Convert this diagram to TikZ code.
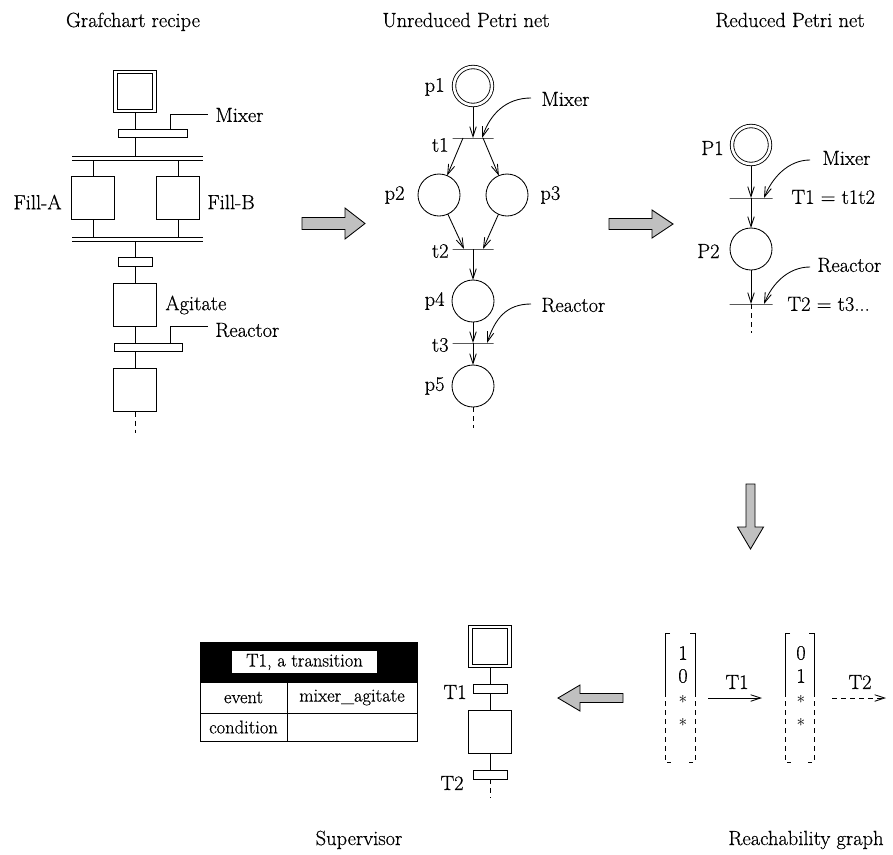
\documentclass[tikz,border=0pt]{standalone}
\usepackage{fontspec}
\setmainfont{Latin Modern Roman}[FakeBold=0.5]
\usetikzlibrary{arrows.meta,calc}
\definecolor{blockgray}{RGB}{192,192,192}
\tikzset{
  lab/.style={font=\fontsize{20.5}{24}\selectfont, inner sep=0pt},
  starlab/.style={font=\fontsize{16}{18}\selectfont, inner sep=0pt},
  tabtxt/.style={font=\fontsize{18.5}{21}\selectfont, inner sep=0pt},
  place/.style={circle, draw, minimum size=42pt, inner sep=0pt, outer sep=0pt},
  iplace/.style={circle, draw, double, double distance=2.6pt, minimum size=38pt, inner sep=0pt, outer sep=2.2pt},
  tbar/.style={draw, minimum width=41pt, minimum height=0pt, inner sep=0pt, outer sep=0pt},
  gstep/.style={draw, minimum width=43pt, minimum height=43pt, inner sep=0pt, outer sep=0pt},
  ginit/.style={draw, double, double distance=2.6pt, minimum width=39pt, minimum height=39pt, inner sep=0pt, outer sep=2.2pt},
  gbar/.style={draw, minimum height=8.5pt, inner sep=0pt, outer sep=0pt},
  arr/.style={-{Straight Barb[length=10pt,width=6.5pt]}},
  dsh/.style={dash pattern=on 5pt off 4pt},
  blockarrow/.style={draw, fill=blockgray, line join=miter},
  cell/.style={draw, tabtxt, minimum height=30pt},
}
\begin{document}
\begin{tikzpicture}[x=1pt, y=-1pt, line width=0.85pt]
\useasboundingbox (0,0) rectangle (893,854);

% ---------- titles ----------
\node[lab, anchor=base] (ttl1) at (133,27) {Grafchart recipe};
\node[lab, anchor=base] (ttl2) at (466,27) {Unreduced Petri net};
\node[lab, anchor=base] (ttl3) at (790,27) {Reduced Petri net};
\node[lab, anchor=base] (ttl4) at (359,845) {Supervisor};
\node[lab, anchor=base] (ttl5) at (806,845) {Reachability graph};

% ---------- Grafchart recipe ----------
\node[ginit] (g0) at (135,91.5) {};
\node[gbar, minimum width=69pt] (gb1) at (152.5,133.5) {};
\draw (g0.south) -- (g0.south |- gb1.north);
\coordinate (gmx) at (208,114);
\draw ($(gb1.north west)+(52,0)$) |- (gmx);
\node[lab, anchor=west] (lgmx) at (215,115) {Mixer};
\coordinate (par1L) at (72,156); \coordinate (par1R) at (203,156);
\coordinate (par2L) at (72,160); \coordinate (par2R) at (203,160);
\draw (par1L) -- (par1R);
\draw (par2L) -- (par2R);
\draw (gb1.south -| g0) -- (g0 |- par1L);
\node[gstep] (fa) at (93,198) {};
\node[gstep] (fb) at (178,198) {};
\draw (fa.north |- par2L) -- (fa.north);
\draw (fb.north |- par2L) -- (fb.north);
\node[lab, anchor=east] (lfa) at (62,202) {Fill-A};
\node[lab, anchor=west] (lfb) at (207,202) {Fill-B};
\coordinate (par3L) at (72,237); \coordinate (par3R) at (203,237);
\coordinate (par4L) at (72,241); \coordinate (par4R) at (203,241);
\draw (par3L) -- (par3R);
\draw (par4L) -- (par4R);
\draw (fa.south) -- (fa.south |- par3L);
\draw (fb.south) -- (fb.south |- par3L);
\node[gbar, minimum width=34pt] (gb2) at (135,262) {};
\draw (g0 |- par4L) -- (gb2.north);
\node[gstep] (ga) at (135,304.5) {};
\draw (gb2.south) -- (ga.north);
\node[lab, anchor=west] (lga) at (165,305) {Agitate};
\node[gbar, minimum width=68pt] (gb3) at (148,347.5) {};
\draw (ga.south) -- (ga.south |- gb3.north);
\coordinate (grc) at (208,326);
\draw ($(gb3.north west)+(56,0)$) |- (grc);
\node[lab, anchor=west] (lgrc) at (215,330) {Reactor};
\node[gstep] (gc) at (135,390) {};
\draw (gb3.south -| ga) -- (gc.north);
\coordinate (gend) at (135,433);
\draw[dsh] (gc.south) -- (gend);

% ---------- block arrows ----------
\draw[blockarrow] (302,217.5) -- (345,217.5) -- (345,208) -- (365,223.5) -- (345,239) -- (345,229.5) -- (302,229.5) -- cycle;
\draw[blockarrow] (609,218.5) -- (652,218.5) -- (652,210) -- (673,224) -- (652,238) -- (652,229.5) -- (609,229.5) -- cycle;
\draw[blockarrow] (746,484) -- (755,484) -- (755,527) -- (763.5,527) -- (750.5,549) -- (737.5,527) -- (746,527) -- cycle;
\draw[blockarrow] (623,693.5) -- (580,693.5) -- (580,685) -- (558,698) -- (580,711) -- (580,702.5) -- (623,702.5) -- cycle;

% ---------- Unreduced Petri net ----------
\node[iplace] (p1) at (473,86) {};
\node[tbar] (t1) at (473,138) {};
\node[place] (p2) at (439,195) {};
\node[place] (p3) at (507,195) {};
\node[tbar] (t2) at (473,249) {};
\node[place] (p4) at (473,301) {};
\node[tbar] (t3) at (473,343) {};
\node[place] (p5) at (473,386) {};
\coordinate (pend) at (473,428);
\draw[arr] (p1) -- (t1);
\draw[arr] ($(t1.center)+(-10,0)$) -- (p2);
\draw[arr] ($(t1.center)+(10,0)$) -- (p3);
\draw[arr] (p2) -- ($(t2.center)+(-9,0)$);
\draw[arr] (p3) -- ($(t2.center)+(10,0)$);
\draw[arr] (t2) -- (p4);
\draw[arr] (p4) -- (t3);
\draw[arr] (t3) -- (p5);
\draw[dsh] (p5) -- (pend);
\node[lab, anchor=east] (lp1) at (445,87) {p1};
\node[lab, anchor=east] (lt1) at (449,145) {t1};
\node[lab, anchor=east] (lp2) at (405,195) {p2};
\node[lab, anchor=west] (lp3) at (540,195) {p3};
\node[lab, anchor=east] (lt2) at (449,251) {t2};
\node[lab, anchor=east] (lp4) at (445,301) {p4};
\node[lab, anchor=east] (lt3) at (449,345) {t3};
\node[lab, anchor=east] (lp5) at (445,386) {p5};
\node[lab, anchor=west] (lpmx) at (541,99) {Mixer};
\node[lab, anchor=west] (lprc) at (541,305) {Reactor};
\draw[arr] ($(lpmx.west)+(-10,-1)$) .. controls +(-25,0) and +(8,-24) .. ($(t1.center)+(9,0)$);
\draw[arr] ($(lprc.west)+(-10,-1)$) .. controls +(-25,0) and +(8,-24) .. ($(t3.center)+(14,0)$);

% ---------- Reduced Petri net ----------
\node[iplace] (P1) at (751,145) {};
\node[tbar, minimum width=43pt] (T1) at (751,198) {};
\node[place] (P2) at (751,249) {};
\node[tbar, minimum width=43pt] (T2) at (751,304) {};
\coordinate (Pend) at (751,333);
\draw[arr] (P1) -- (T1);
\draw[arr] (T1) -- (P2);
\draw[arr] (P2) -- (T2);
\draw[dsh] (T2) -- (Pend);
\node[lab, anchor=east] (lP1) at (724,148) {P1};
\node[lab, anchor=east] (lP2) at (720,251) {P2};
\node[lab, anchor=west] (lRmx) at (822,158) {Mixer};
\node[lab, anchor=west] (lRrc) at (817,265) {Reactor};
\node[lab, anchor=west] (lT1) at (791,197) {T1 = t1t2};
\node[lab, anchor=west] (lT2) at (787,304) {T2 = t3...};
\draw[arr] (810,160) .. controls +(-22,0) and +(8,-20) .. ($(T1.center)+(13,0)$);
\draw[arr] (810,267) .. controls +(-22,0) and +(8,-20) .. ($(T2.center)+(13,0)$);

% ---------- Reachability graph ----------
\node[lab] (m1a) at (683,653) {1};
\node[lab] (m1b) at (683,676) {0};
\node[starlab] (m1c) at (683,699) {$*$};
\node[starlab] (m1d) at (683,722) {$*$};
\node[lab] (m2a) at (801,653) {0};
\node[lab] (m2b) at (801,676) {1};
\node[starlab] (m2c) at (801,699) {$*$};
\node[starlab] (m2d) at (801,722) {$*$};
% brackets
\draw (670,633) -- (665,633) -- (665,692);
\draw (690,633) -- (695,633) -- (695,692);
\draw[dsh] (665,692) -- (665,762) -- (671,762);
\draw[dsh] (695,692) -- (695,762) -- (689,762);
\draw (790,633) -- (785,633) -- (785,692);
\draw (809,633) -- (814,633) -- (814,692);
\draw[dsh] (785,692) -- (785,762) -- (791,762);
\draw[dsh] (814,692) -- (814,762) -- (808,762);
\coordinate (ra1) at (708,698);
\coordinate (ra2) at (762,698);
\coordinate (rb1) at (832,698);
\coordinate (rb2) at (886,698);
\draw[arr] (ra1) -- (ra2);
\draw[arr, dsh] (rb1) -- (rb2);
\node[lab] (lrT1) at (737,682) {T1};
\node[lab] (lrT2) at (860,682) {T2};

% ---------- Supervisor ----------
\node[ginit] (s0) at (490,646.5) {};
\node[gbar, minimum width=34pt] (sb1) at (490,689) {};
\node[gstep] (s1) at (490,731.5) {};
\node[gbar, minimum width=34pt] (sb2) at (490,775) {};
\coordinate (send) at (490,798);
\draw (s0.south) -- (sb1.north);
\draw (sb1.south) -- (s1.north);
\draw (s1.south) -- (sb2.north);
\draw[dsh] (sb2.south) -- (send);
\node[lab, anchor=east] (lsT1) at (467,692) {T1};
\node[lab, anchor=east] (lsT2) at (464,783) {T2};

% ---------- Table ----------
\node[draw, fill=black, minimum width=217pt, minimum height=40pt, inner sep=0pt] (thead) at (308.5,662) {};
\node[fill=white, tabtxt, minimum width=145pt, minimum height=22pt] (tname) at (304.5,662) {T1, a transition};
\node[cell, minimum width=87pt, minimum height=31pt] (c11) at (243.5,697.5) {event};
\node[cell, minimum width=130pt, minimum height=31pt] (c12) at (352,697.5) {mixer\_agitate};
\node[cell, minimum width=87pt, minimum height=28pt] (c21) at (243.5,727) {condition};
\node[cell, minimum width=130pt, minimum height=28pt] (c22) at (352,727) {};
\end{tikzpicture}
\end{document}
